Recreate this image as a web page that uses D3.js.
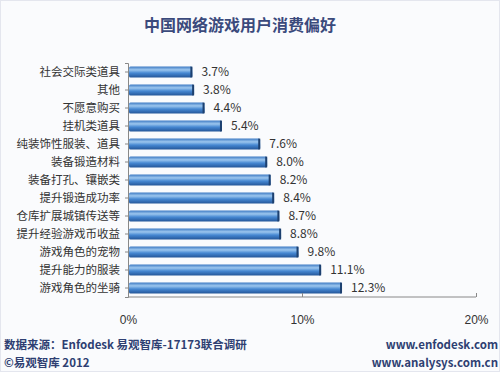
<!DOCTYPE html>
<html>
<head>
<meta charset="utf-8">
<script src="https://cdn.jsdelivr.net/npm/d3@7"></script>
<style>
	body { margin: 0; background: #fff; }
	svg { display: block; font-family: "Noto Sans CJK SC", "Noto Sans", sans-serif; }
</style>
</head>
<body>
<div class="container"></div>
<script>
// categorias, de arriba hacia abajo
var categories = ['社会交际类道具', '其他', '不愿意购买', '挂机类道具', '纯装饰性服装、道具',
	'装备锻造材料', '装备打孔、镶嵌类', '提升锻造成功率', '仓库扩展城镇传送等',
	'提升经验游戏币收益', '游戏角色的宠物', '提升能力的服装', '游戏角色的坐骑'];
var values = [3.7, 3.8, 4.4, 5.4, 7.6, 8.0, 8.2, 8.4, 8.7, 8.8, 9.8, 11.1, 12.3];
var x_ticks = [0, 10, 20];

var width = 500, height = 372;

var svg = d3.select('.container').append('svg')
	.attr('width', width)
	.attr('height', height);

// fondo
svg.append('rect')
	.attr('x', 0.5).attr('y', 0.5)
	.attr('width', width - 1).attr('height', height - 1)
	.attr('fill', '#fafbfd')
	.attr('stroke', '#e4e6ee');

var defs = svg.append('defs');
var grad = defs.append('linearGradient')
	.attr('id', 'bar_grad')
	.attr('x1', 0).attr('y1', 0).attr('x2', 0).attr('y2', 1);
grad.append('stop').attr('offset', '0%').attr('stop-color', '#3f7bc4');
grad.append('stop').attr('offset', '30%').attr('stop-color', '#9cc6ee');
grad.append('stop').attr('offset', '60%').attr('stop-color', '#4587d2');
grad.append('stop').attr('offset', '100%').attr('stop-color', '#25579a');

var x_scale = d3.scaleLinear()
	.domain([0, 20])
	.range([128, 476]);

var y_scale = d3.scaleBand()
	.domain(categories)
	.range([63, 297])
	.paddingInner(0.4)
	.paddingOuter(0.2);

// titulo
svg.append('text')
	.attr('x', 240).attr('y', 31)
	.attr('text-anchor', 'middle')
	.attr('font-size', 16)
	.attr('font-weight', 'bold')
	.attr('fill', '#3b4a7c')
	.text('中国网络游戏用户消费偏好');

// barras
var bars = svg.append('g');
bars.selectAll('rect')
	.data(values)
	.enter()
	.append('rect')
	.attr('x', x_scale(0) + 1)
	.attr('y', function(d, i) { return y_scale(categories[i]); })
	.attr('width', function(d) { return x_scale(d) - x_scale(0) - 1; })
	.attr('height', y_scale.bandwidth())
	.attr('rx', 1.5)
	.attr('fill', 'url(#bar_grad)');

// sombra del extremo
bars.selectAll('.cap')
	.data(values)
	.enter()
	.append('rect')
	.attr('class', 'cap')
	.attr('x', function(d) { return x_scale(d) - 2; })
	.attr('y', function(d, i) { return y_scale(categories[i]); })
	.attr('width', 2)
	.attr('height', y_scale.bandwidth())
	.attr('fill', '#1d406f');

// etiquetas de valor
svg.append('g').selectAll('text')
	.data(values)
	.enter()
	.append('text')
	.attr('x', function(d) { return x_scale(d) + 9; })
	.attr('y', function(d, i) { return y_scale(categories[i]) + y_scale.bandwidth() / 2 + 1; })
	.attr('dominant-baseline', 'middle')
	.attr('font-size', 12)
	.attr('fill', '#333')
	.text(function(d) { return d.toFixed(1) + '%'; });

// eje y
var y_axis = d3.axisLeft(y_scale).tickSize(3).tickPadding(5);
var gy = svg.append('g')
	.attr('transform', 'translate(' + x_scale(0) + ',0)')
	.call(y_axis);
gy.select('.domain').attr('stroke', '#888');
gy.selectAll('line').attr('stroke', '#888');
gy.selectAll('text')
	.attr('font-size', 11.5)
	.attr('fill', '#333')
	.attr('font-family', '"Noto Sans CJK SC", sans-serif');

// eje x
var x_axis = d3.axisBottom(x_scale)
	.tickValues(x_ticks)
	.tickSize(4)
	.tickPadding(14)
	.tickFormat(function(d) { return d + '%'; });
var gx = svg.append('g')
	.attr('transform', 'translate(0,297)')
	.call(x_axis);
gx.select('.domain').attr('stroke', '#888').attr('d', 'M' + x_scale(0) + ',0H' + x_scale(20));
gx.selectAll('line').attr('stroke', '#888').attr('y1', -4).attr('y2', 0);
gx.selectAll('text')
	.attr('font-size', 12)
	.attr('fill', '#333');

// pie de pagina
svg.append('text')
	.attr('x', 4).attr('y', 349)
	.attr('font-size', 11.5)
	.attr('font-weight', 'bold')
	.attr('fill', '#2e3f72')
	.text('数据来源：Enfodesk 易观智库-17173联合调研');
svg.append('text')
	.attr('x', 4).attr('y', 367)
	.attr('font-size', 11.5)
	.attr('font-weight', 'bold')
	.attr('fill', '#2e3f72')
	.text('©易观智库 2012');
svg.append('text')
	.attr('x', 498).attr('y', 349)
	.attr('text-anchor', 'end')
	.attr('font-size', 11.5)
	.attr('font-weight', 'bold')
	.attr('fill', '#2e3f72')
	.text('www.enfodesk.com');
svg.append('text')
	.attr('x', 498).attr('y', 367)
	.attr('text-anchor', 'end')
	.attr('font-size', 11.5)
	.attr('font-weight', 'bold')
	.attr('fill', '#2e3f72')
	.text('www.analysys.com.cn');
</script>
</body>
</html>
